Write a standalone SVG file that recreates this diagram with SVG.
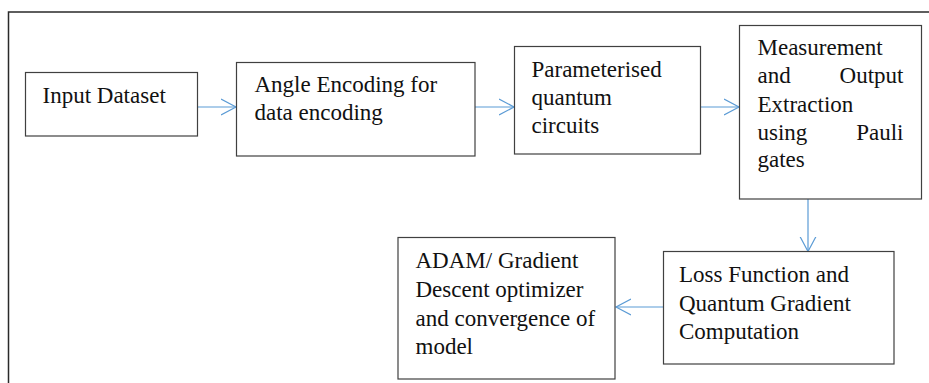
<svg xmlns="http://www.w3.org/2000/svg" width="929" height="383" viewBox="0 0 929 383">
<defs>
<style>
.box{fill:#fff;stroke:#404040;stroke-width:1.2}
.t{font-family:"Liberation Serif","Times New Roman",serif;font-size:23px;fill:#111}
.e{text-anchor:end}
.c{stroke:#5B9BD5;stroke-width:1.2;fill:none}
.frame{stroke:#2a2a2a;stroke-width:1.5;fill:none}
</style>
<marker id="ah" markerUnits="userSpaceOnUse" markerWidth="18" markerHeight="20" refX="15" refY="9" orient="auto" viewBox="0 0 18 20">
<path d="M0,1 L15,9 L0,17" fill="none" stroke="#5B9BD5" stroke-width="1.2"/>
</marker>
</defs>
<rect width="929" height="383" fill="#fff"/>
<path class="frame" d="M8.5,383 V12 H929"/>
<g id="connectors">
<line class="c" x1="198" y1="107" x2="236" y2="107" marker-end="url(#ah)"/>
<line class="c" x1="475" y1="107" x2="514" y2="107" marker-end="url(#ah)"/>
<line class="c" x1="701" y1="107" x2="739" y2="107" marker-end="url(#ah)"/>
<line class="c" x1="808" y1="199" x2="808" y2="251.5" marker-end="url(#ah)"/>
<line class="c" x1="663" y1="307" x2="616" y2="307" marker-end="url(#ah)"/>
</g>
<g id="input">
<rect class="box" x="25.5" y="72.5" width="172" height="63.5"/>
<text class="t" x="42.5" y="103">Input Dataset</text>
</g>
<g id="angle">
<rect class="box" x="236.5" y="62.5" width="238.5" height="93.5"/>
<text class="t" x="254.5" y="92">Angle Encoding for</text>
<text class="t" x="254.5" y="120">data encoding</text>
</g>
<g id="pqc">
<rect class="box" x="514.5" y="46.5" width="186" height="107.5"/>
<text class="t" x="531.5" y="77">Parameterised</text>
<text class="t" x="531.5" y="105">quantum</text>
<text class="t" x="531.5" y="133">circuits</text>
</g>
<g id="measure">
<rect class="box" x="739.5" y="25.5" width="182" height="173.5"/>
<text class="t" x="757.5" y="55">Measurement</text>
<text class="t" x="757.5" y="83">and</text>
<text class="t e" x="903.5" y="83">Output</text>
<text class="t" x="757.5" y="111.5">Extraction</text>
<text class="t" x="757.5" y="139.5">using</text>
<text class="t e" x="903.5" y="139.5">Pauli</text>
<text class="t" x="757.5" y="167">gates</text>
</g>
<g id="loss">
<rect class="box" x="663.5" y="251.5" width="230.5" height="112.5"/>
<text class="t" x="679" y="282">Loss Function and</text>
<text class="t" x="679" y="310.5">Quantum Gradient</text>
<text class="t" x="679" y="339">Computation</text>
</g>
<g id="adam">
<rect class="box" x="398" y="237.5" width="217" height="141.5"/>
<text class="t" x="415.5" y="268">ADAM/ Gradient</text>
<text class="t" x="415.5" y="297">Descent optimizer</text>
<text class="t" x="415.5" y="325.5">and convergence of</text>
<text class="t" x="415.5" y="354">model</text>
</g>
</svg>
